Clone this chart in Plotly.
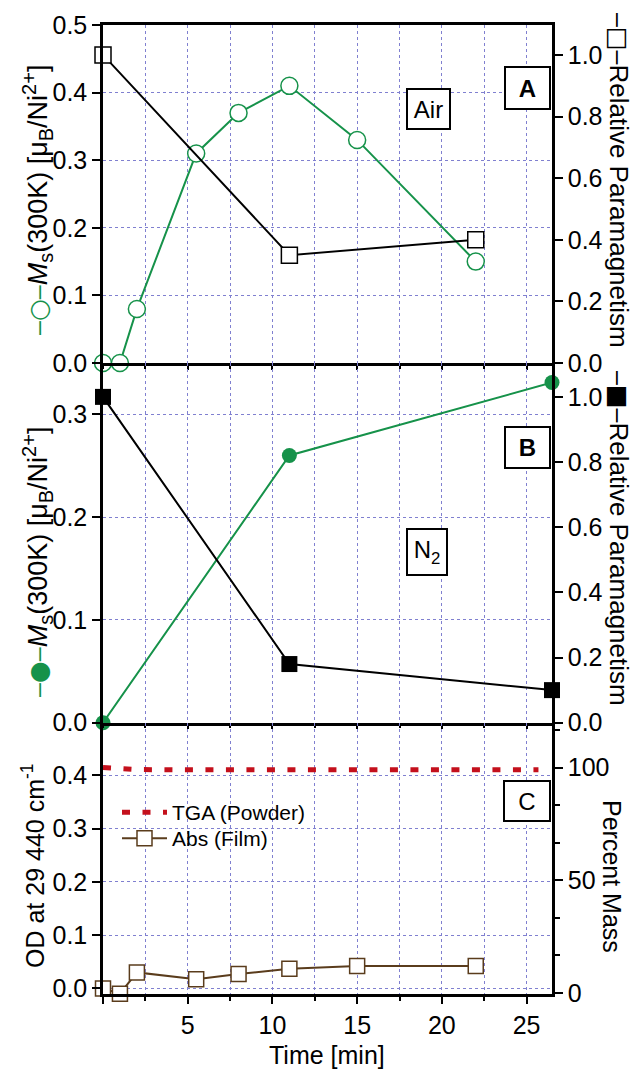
import plotly.graph_objects as go

# ---- data -------------------------------------------------------------
# (A) annealing in air
t_air_ms = [0, 1, 2, 5.5, 8, 11, 15, 22]
ms_air = [0.0, 0.0, 0.08, 0.31, 0.37, 0.41, 0.33, 0.15]
t_air_para = [0, 11, 22]
para_air = [1.0, 0.35, 0.40]

# (B) annealing in N2
t_n2 = [0, 11, 26.5]
ms_n2 = [0.0, 0.26, 0.331]
para_n2 = [1.0, 0.18, 0.10]

# (C) TGA mass loss and film absorbance
t_tga = [0, 1, 2, 5, 10, 15, 20, 25.7]
mass_tga = [100, 99.4, 99.1, 99.0, 99.0, 99.0, 99.0, 99.0]
t_abs = [0, 1, 2, 5.5, 8, 11, 15, 22]
od_abs = [0.0, -0.01, 0.03, 0.017, 0.027, 0.037, 0.042, 0.042]

x_tick_labels = [5, 10, 15, 20, 25]

# ---- styling ----------------------------------------------------------
GREEN = "#16924a"
BROWN = "#5a3c1c"
RED = "#c4101c"
GRID = "#8080d0"
FONT = "Liberation Sans, Arial, sans-serif"

W, H = 633, 1070
ML, MR, MT, MB = 103, 81, 25, 76
PW, PH = W - ML - MR, H - MT - MB


def px(x):
    return (x - ML) / PW


def py(y):
    return (H - MB - y) / PH


dom_a = [py(363), 1.0]
dom_b = [py(722.7), py(363)]
dom_c = [0.0, py(722.7)]

fig = go.Figure()

# panel A
fig.add_trace(go.Scatter(
    x=t_air_para, y=para_air, xaxis="x", yaxis="y2", mode="lines+markers",
    line=dict(color="black", width=2),
    marker=dict(symbol="square", size=16, color="white", line=dict(color="black", width=1.5)),
    cliponaxis=False, showlegend=False))
fig.add_trace(go.Scatter(
    x=t_air_ms, y=ms_air, xaxis="x", yaxis="y", mode="lines+markers",
    line=dict(color=GREEN, width=2),
    marker=dict(symbol="circle", size=17, color="white", line=dict(color=GREEN, width=1.5)),
    cliponaxis=False, showlegend=False))

# panel B
fig.add_trace(go.Scatter(
    x=t_n2, y=para_n2, xaxis="x2", yaxis="y4", mode="lines+markers",
    line=dict(color="black", width=2),
    marker=dict(symbol="square", size=16, color="black"),
    cliponaxis=False, showlegend=False))
fig.add_trace(go.Scatter(
    x=t_n2, y=ms_n2, xaxis="x2", yaxis="y3", mode="lines+markers",
    line=dict(color=GREEN, width=2),
    marker=dict(symbol="circle", size=15, color=GREEN),
    cliponaxis=False, showlegend=False))

# panel C
fig.add_trace(go.Scatter(
    x=t_tga, y=mass_tga, xaxis="x3", yaxis="y6", mode="lines",
    line=dict(color=RED, width=5, dash="8px,12.5px"),
    name="TGA (Powder)", legend="legend"))
fig.add_trace(go.Scatter(
    x=t_abs, y=od_abs, xaxis="x3", yaxis="y5", mode="lines+markers",
    line=dict(color=BROWN, width=2),
    marker=dict(symbol="square", size=15, color="white", line=dict(color=BROWN, width=1.5)),
    cliponaxis=False, name="Abs (Film)", legend="legend2"))

tickfont = dict(family=FONT, size=25, color="black")


def x_axis(anchor, labels, major_len, minor_len, mirror):
    return dict(
        anchor=anchor, domain=[0, 1], range=[0, 26.5],
        tickmode="array", tickvals=[0] + x_tick_labels,
        ticktext=[""] + [str(v) for v in x_tick_labels],
        showticklabels=labels, tickfont=tickfont,
        ticks="outside", ticklen=major_len, tickwidth=2, tickcolor="black",
        showline=True, linecolor="black", linewidth=2.5, mirror=mirror,
        showgrid=True, gridcolor=GRID, griddash="dot", gridwidth=1,
        zeroline=False,
        minor=dict(tickmode="linear", tick0=0, dtick=2.5, ticks="outside", ticklen=minor_len,
                   tickwidth=1.5, tickcolor="black",
                   showgrid=True, gridcolor=GRID, griddash="dot", gridwidth=1),
    )


def x_inner(over, anchor, major_len, minor_len):
    return dict(
        overlaying=over, anchor=anchor, range=[0, 26.5],
        tickmode="array", tickvals=[0] + x_tick_labels, showticklabels=False,
        ticks="inside", ticklen=major_len, tickwidth=2, tickcolor="black",
        showline=False, showgrid=False, zeroline=False,
        minor=dict(tickmode="linear", tick0=0, dtick=2.5, ticks="inside", ticklen=minor_len,
                   tickwidth=1.5, tickcolor="black", showgrid=False),
    )


def y_left(anchor, domain, rng, vals):
    return dict(
        anchor=anchor, domain=domain, range=rng,
        tickmode="array", tickvals=vals, ticktext=[f"{v:.1f}" for v in vals],
        tickfont=tickfont, ticks="outside", ticklen=8, tickwidth=2, tickcolor="black",
        showline=True, linecolor="black", linewidth=2.5,
        showgrid=True, gridcolor=GRID, griddash="dot", gridwidth=1, zeroline=False,
    )


def y_right(over, anchor, rng, vals, fmt):
    return dict(
        overlaying=over, anchor=anchor, side="right", range=rng,
        tickmode="array", tickvals=vals, ticktext=[fmt(v) for v in vals],
        tickfont=tickfont, ticks="outside", ticklen=8, tickwidth=2, tickcolor="black",
        showline=True, linecolor="black", linewidth=2.5,
        showgrid=False, zeroline=False,
    )


legend_style = dict(xanchor="left", yanchor="top", bgcolor="rgba(0,0,0,0)",
                    font=dict(family=FONT, size=21, color="black"), itemwidth=45)

fig.update_layout(
    width=W, height=H,
    margin=dict(l=ML, r=MR, t=MT, b=MB),
    paper_bgcolor="white", plot_bgcolor="white",
    font=dict(family=FONT, color="black"),
    xaxis=x_axis("y", False, 4, 3, True),
    xaxis2=x_axis("y3", False, 4, 3, False),
    xaxis3=x_axis("y5", True, 7, 4, False),
    xaxis4=x_inner("x", "y", 4, 3),
    xaxis5=x_inner("x2", "y3", 4, 3),
    xaxis6=x_inner("x3", "y5", 7, 4),
    yaxis=y_left("x", dom_a, [0, 0.5], [0.0, 0.1, 0.2, 0.3, 0.4, 0.5]),
    yaxis2=y_right("y", "x", [0, 1.097], [0.0, 0.2, 0.4, 0.6, 0.8, 1.0], lambda v: f"{v:.1f}"),
    yaxis3=y_left("x2", dom_b, [0, 0.35], [0.0, 0.1, 0.2, 0.3]),
    yaxis4=y_right("y3", "x2", [0, 1.104], [0.0, 0.2, 0.4, 0.6, 0.8, 1.0], lambda v: f"{v:.1f}"),
    yaxis5=y_left("x3", dom_c, [-0.0105, 0.4985], [0.0, 0.1, 0.2, 0.3, 0.4]),
    yaxis6=y_right("y5", "x3", [-0.44, 119.9], [0, 50, 100], lambda v: f"{v:d}"),
    legend=dict(x=px(117), y=py(792), **legend_style),
    legend2=dict(x=px(117), y=py(818), **legend_style),
)
fig.layout.yaxis6.minor = dict(tickmode="linear", tick0=0, dtick=50 / 3, ticks="outside",
                               ticklen=5, tickwidth=1.5, tickcolor="black", showgrid=False)

annotations = []


def box(text, cx, cy, w, h, bold=False):
    annotations.append(dict(
        text=f"<b>{text}</b>" if bold else text, x=px(cx), y=py(cy),
        xref="paper", yref="paper", xanchor="center", yanchor="middle",
        showarrow=False, width=w, height=h, bgcolor="white",
        bordercolor="black", borderwidth=2, borderpad=0,
        font=dict(family=FONT, size=24, color="black")))


box("Air", 428.5, 109, 41, 38)
box("A", 527.5, 88, 43, 40, bold=True)
box("B", 527.5, 447, 43, 39, bold=True)
box("N<sub>2</sub>", 427, 552, 38, 44)
box("C", 527, 801, 44, 38)


def title(text, cx, cy, angle, size=25):
    annotations.append(dict(
        text=text, x=px(cx), y=py(cy), xref="paper", yref="paper",
        xanchor="center", yanchor="middle", showarrow=False, textangle=angle,
        font=dict(family=FONT, size=size, color="black")))


def key(sym, color):
    # line-marker-line key drawn in front of an axis title
    return (f"<span style='font-size:25px;color:{color}'>–</span>"
            f"<span style='font-family:DejaVu Sans;font-size:25px;color:{color}'>{sym}</span>"
            f"<span style='font-size:25px;color:{color}'>–</span>")


def small(t):
    return f"<span style='font-size:20px'>{t}</span>"


ms_label = (f"<i>M</i><sub>{small('s')}</sub>(300K) "
            f"[μ<sub>{small('B')}</sub>/Ni<sup>{small('2+')}</sup>]")
title(key("○", GREEN) + ms_label, 37, 200, -90, 27)
title(key("●", GREEN) + ms_label, 37, 562, -90, 27)
title("OD at 29 440 cm<sup>-1</sup>", 33, 866, -90)
title(key("□", "black") + "Relative Paramagnetism", 619, 180, 90, 26)
title(key("■", "black") + "Relative Paramagnetism", 619, 538, 90, 26)
title("Percent Mass", 612, 876, 90)
title("Time [min]", 327, 1055, 0)

fig.update_layout(annotations=annotations)

fig.write_html("out.html")
